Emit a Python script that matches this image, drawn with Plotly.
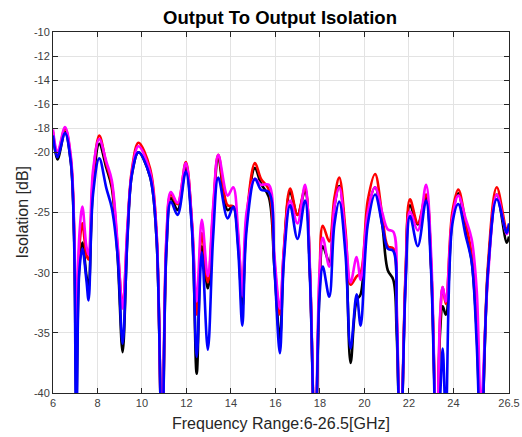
import plotly.graph_objects as go

FREQ = [6.00, 6.20, 6.54, 6.80, 6.95, 7.05, 7.18, 7.32, 7.50, 7.60, 7.80, 8.08, 8.40, 8.64, 8.90,
        9.13, 9.35, 9.55, 9.84, 10.36, 10.65, 10.90, 11.10, 11.30, 11.60, 11.97, 12.25, 12.46,
        12.69, 12.96, 13.20, 13.43, 13.85, 14.10, 14.32, 14.51, 14.70, 15.08, 15.35, 15.70,
        15.95, 16.20, 16.38, 16.66, 16.99, 17.33, 17.55, 17.78, 17.98, 18.13, 18.42, 18.65,
        18.87, 19.15, 19.38, 19.65, 19.83, 20.15, 20.48, 20.80, 21.05, 21.30, 21.45, 21.62,
        21.85, 22.05, 22.40, 22.77, 23.00, 23.25, 23.40, 23.52, 23.66, 23.95, 24.22, 24.55,
        24.82, 25.05, 25.24, 25.55, 25.95, 26.40, 26.50]

BLACK = [-18.5, -20.6, -18.3, -20.8, -27.0, -40.5, -29.5, -27.5, -30.2, -31.3, -22.8, -19.3, -21.3, -22.9, -28.5,
         -36.6, -26.8, -21.8, -20.0, -22.0, -27.0, -45.0, -28.0, -23.8, -24.8, -21.3, -26.2, -38.4,
         -27.8, -31.3, -25.5, -20.4, -24.8, -24.5, -27.5, -33.0, -25.8, -21.3, -22.6, -23.7,
         -29.5, -35.5, -28.5, -23.3, -25.2, -23.2, -30.0, -45.0, -31.5, -27.8, -29.1, -24.5,
         -22.8, -27.5, -37.5, -32.3, -31.8, -25.0, -22.9, -26.0, -29.8, -30.6, -35.0, -45.0,
         -30.5, -24.4, -26.0, -23.8, -29.5, -45.0, -35.0, -32.8, -33.5, -25.5, -23.4, -26.5,
         -29.0, -35.0, -45.0, -30.0, -23.5, -27.5, -27.0]

RED = [-18.3, -20.2, -18.0, -20.5, -26.5, -35.7, -28.0, -25.9, -28.5, -28.9, -22.0, -18.6, -21.0, -22.6, -27.8,
       -32.8, -26.3, -21.4, -19.2, -21.3, -26.5, -45.0, -27.3, -23.5, -24.3, -20.8, -26.0, -33.5,
       -26.7, -30.8, -24.8, -20.2, -24.4, -24.5, -27.0, -32.0, -25.5, -20.9, -22.2, -23.1,
       -29.0, -33.5, -28.0, -23.0, -25.2, -23.0, -30.0, -45.0, -30.5, -26.1, -27.4, -23.8,
       -22.1, -26.5, -31.0, -30.3, -30.0, -24.0, -21.8, -25.2, -27.8, -28.0, -33.5, -45.0,
       -30.0, -23.9, -25.9, -23.5, -29.5, -45.0, -34.0, -31.2, -32.6, -25.0, -23.1, -25.8,
       -28.5, -34.0, -45.0, -29.5, -22.9, -26.4, -26.0]

MAGENTA = [-18.1, -20.0, -17.9, -20.3, -26.0, -35.0, -27.0, -24.5, -27.8, -28.5, -21.5, -18.9, -20.8, -22.3, -27.5,
           -33.0, -26.0, -21.6, -19.5, -21.6, -26.5, -45.0, -27.0, -23.3, -24.2, -20.9, -25.8, -32.4,
           -25.6, -30.3, -24.5, -20.2, -23.6, -22.9, -26.5, -31.9, -25.0, -22.2, -22.7, -22.7,
           -28.5, -33.0, -28.2, -24.0, -25.9, -22.7, -29.5, -45.0, -30.0, -27.1, -29.5, -24.5,
           -22.9, -27.0, -30.8, -28.7, -30.6, -25.0, -22.9, -25.0, -26.4, -26.6, -32.5, -45.0,
           -30.5, -24.9, -26.5, -22.7, -28.5, -45.0, -33.6, -31.2, -32.4, -25.5, -23.6, -25.5,
           -27.2, -31.5, -41.0, -30.5, -23.5, -26.8, -26.3]

BLUE = [-18.6, -20.4, -18.4, -20.8, -27.5, -45.0, -30.0, -28.0, -30.6, -32.3, -23.5, -20.5, -23.0, -24.6, -28.5,
        -35.9, -27.0, -21.8, -20.0, -22.0, -27.0, -45.0, -28.0, -24.1, -25.2, -21.6, -26.5, -37.0,
        -28.3, -36.4, -27.0, -22.1, -25.5, -24.5, -28.0, -34.4, -26.5, -22.2, -23.1, -23.3,
        -29.5, -36.7, -29.0, -24.4, -27.2, -24.0, -30.5, -45.0, -32.0, -29.5, -32.0, -26.0,
        -24.1, -28.5, -36.3, -31.8, -34.4, -26.0, -23.5, -26.0, -28.0, -28.2, -34.0, -45.0,
        -31.0, -25.3, -27.8, -24.0, -30.0, -45.0, -40.5, -36.3, -42.0, -26.0, -24.3, -26.9,
        -29.1, -36.0, -45.0, -30.0, -23.9, -26.7, -25.9]

X_TICKS = [6, 8, 10, 12, 14, 16, 18, 20, 22, 24, 26.5]
X_TICK_LABELS = ["6", "8", "10", "12", "14", "16", "18", "20", "22", "24", "26.5"]
Y_TICKS = [-40, -35, -30, -25, -20, -18, -16, -14, -12, -10]
Y_TICK_LABELS = ["-40", "-35", "-30", "-25", "-20", "-18", "-16", "-14", "-12", "-10"]

SERIES = [("black", BLACK, "#000000"), ("red", RED, "#ff0000"),
          ("magenta", MAGENTA, "#ff00ff"), ("blue", BLUE, "#0000ff")]

fig = go.Figure()
for name, vals, col in SERIES:
    fig.add_trace(go.Scatter(x=FREQ, y=vals, mode="lines", name=name,
                             line=dict(color=col, width=2.6, shape="spline", smoothing=1.0)))

axis_common = dict(showline=True, linecolor="#262626", linewidth=1, mirror="ticks",
                   ticks="inside", ticklen=5, tickcolor="#262626", automargin=False,
                   showgrid=True, gridcolor="#e3e3e3", gridwidth=1, zeroline=False,
                   tickfont=dict(family="Liberation Sans, Arial", size=11, color="#404040"))

fig.update_xaxes(range=[6, 26.5], tickvals=X_TICKS, ticktext=X_TICK_LABELS, **axis_common)
fig.update_yaxes(range=[-40, -10], tickvals=Y_TICKS, ticktext=Y_TICK_LABELS, **axis_common)

W, H = 522, 437
fig.update_layout(
    width=W, height=H,
    margin=dict(l=53, r=13, t=32, b=44),
    paper_bgcolor="white", plot_bgcolor="white",
    showlegend=False,
    title=dict(text="<b>Output To Output Isolation</b>", x=280 / W, xanchor="center",
               y=1 - 18 / H, yanchor="middle", yref="container",
               font=dict(family="Liberation Sans, Arial", size=18.5, color="#000000")),
    annotations=[
        dict(text="Frequency Range:6-26.5[GHz]", x=0.5, y=0, xref="paper", yref="paper",
             xanchor="center", yanchor="middle", yshift=-30, showarrow=False,
             font=dict(family="Liberation Sans, Arial", size=16, color="#262626")),
        dict(text="Isolation [dB]", x=0, y=0.5, xref="paper", yref="paper",
             xanchor="center", yanchor="middle", xshift=-31, textangle=-90, showarrow=False,
             font=dict(family="Liberation Sans, Arial", size=16, color="#262626")),
    ],
)

fig.write_html("out.html", config={"displayModeBar": False},
               post_script="document.body.style.margin='0';document.body.style.overflow='hidden';")
